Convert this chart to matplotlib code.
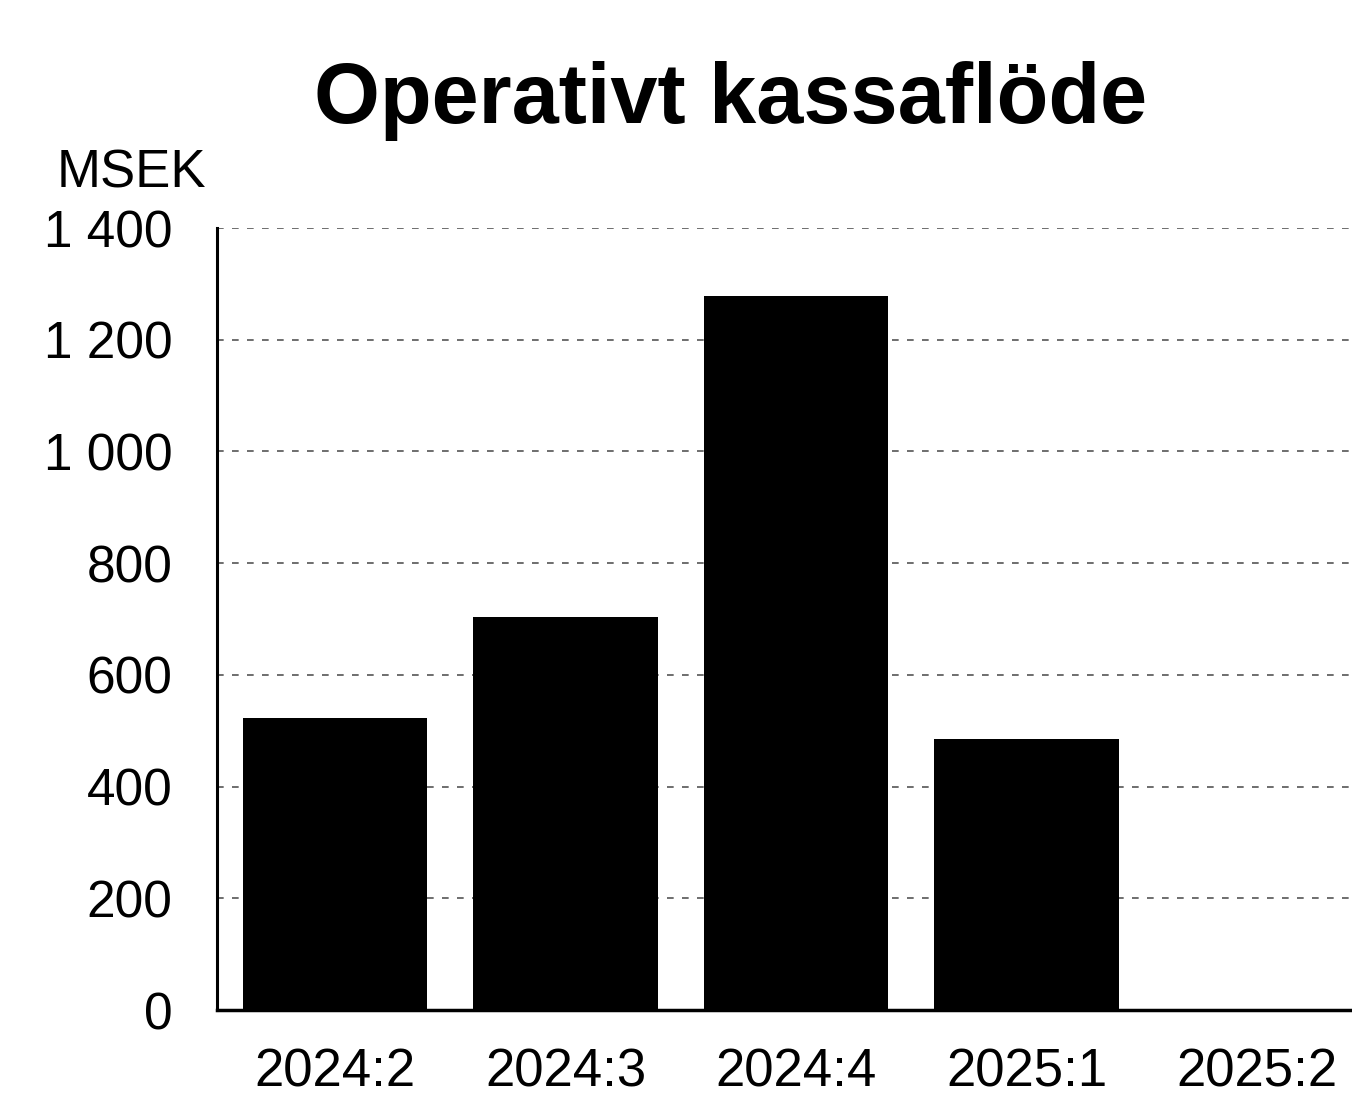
import matplotlib
matplotlib.use("Agg")
import matplotlib.pyplot as plt

categories = ["2024:2", "2024:3", "2024:4", "2025:1", "2025:2"]
values = [523, 703, 1278, 485, 0]
yticks = [0, 200, 400, 600, 800, 1000, 1200, 1400]
ytick_labels = ["0", "200", "400", "600", "800", "1 000", "1 200", "1 400"]

plt.rcParams['font.family'] = ['Liberation Sans', 'DejaVu Sans']

W, H = 1352, 1096
fig = plt.figure(figsize=(W / 100, H / 100), dpi=100)
ax = fig.add_axes([217 / W, 1 - 1010 / H, 1 - 217 / W, (1010 - 228) / H])

x = list(range(len(categories)))
ax.bar(x, values, width=0.8, color="black", zorder=3)

ax.set_xlim(-0.512, 4.412)
ax.set_ylim(0, 1400)
ax.set_yticks(yticks)
ax.set_yticklabels(ytick_labels)
ax.set_xticks(x)
ax.set_xticklabels(categories)

ax.tick_params(axis="y", length=0, pad=32, labelsize=37)
ax.tick_params(axis="x", length=0, pad=27, labelsize=38)

for s in ["top", "right"]:
    ax.spines[s].set_visible(False)
ax.spines["left"].set_linewidth(2.2)
ax.spines["bottom"].set_linewidth(2.5)
ax.spines["left"].set_color("black")
ax.spines["bottom"].set_color("black")

ax.yaxis.grid(True, color="#555555", linewidth=1.2, linestyle=(0, (4, 5)), zorder=0)
ax.set_axisbelow(True)

fig.text(731 / W, 1 - 123 / H, "Operativt kassaflöde", ha="center", va="baseline",
         fontsize=61, fontweight="bold")
fig.text(57 / W, 1 - 187 / H, "MSEK", ha="left", va="baseline", fontsize=38)

fig.savefig("out.png", dpi=100)
